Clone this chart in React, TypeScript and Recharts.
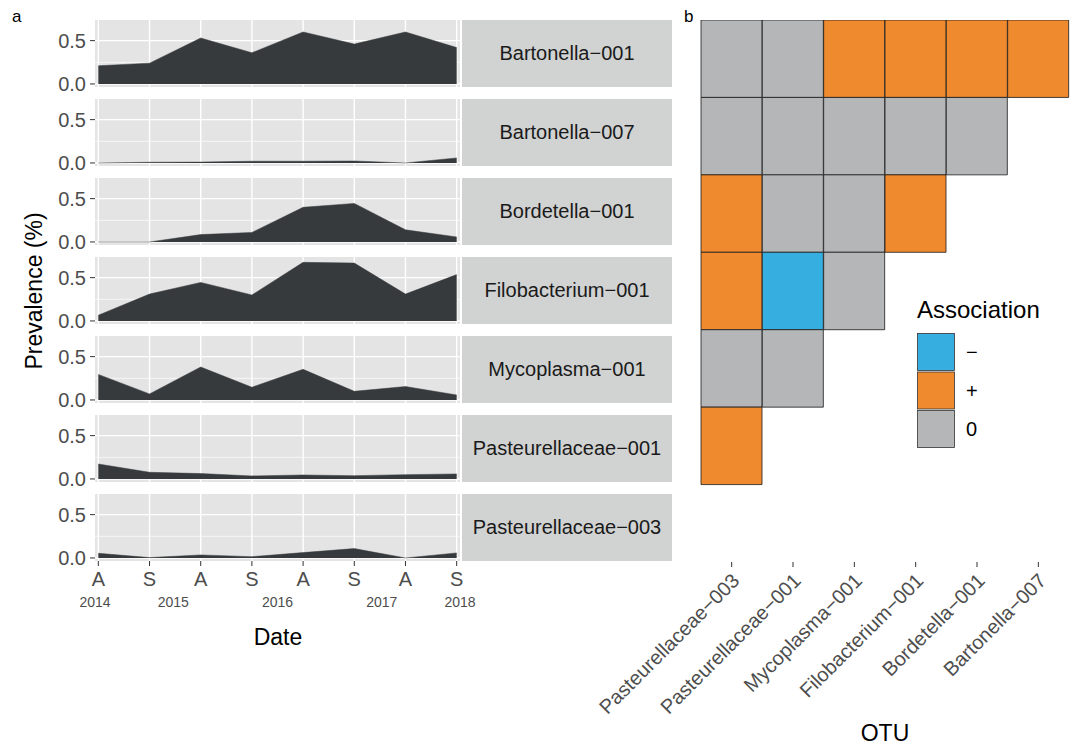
import React from 'react';
import { AreaChart, Area, XAxis, YAxis, CartesianGrid, BarChart, Bar, Cell } from 'recharts';

const FONT = '"Liberation Sans", Arial, Helvetica, sans-serif';

// sampling occasions (A = autumn, S = spring) and the year labels under them
const seasons = ['A', 'S', 'A', 'S', 'A', 'S', 'A', 'S'];
const yearLabels = ['2014', '2015', '2016', '2017', '2018'];
const yearPos = [0, 1.5, 3.5, 5.5, 7];

// prevalence per OTU, one value per sampling occasion
const otuNames = [
  'Bartonella−001',
  'Bartonella−007',
  'Bordetella−001',
  'Filobacterium−001',
  'Mycoplasma−001',
  'Pasteurellaceae−001',
  'Pasteurellaceae−003',
];
const bartonella001 = [0.21, 0.24, 0.53, 0.36, 0.6, 0.46, 0.6, 0.42];
const bartonella007 = [0.0, 0.008, 0.01, 0.02, 0.02, 0.023, 0.0, 0.058];
const bordetella001 = [0.0, 0.0, 0.085, 0.11, 0.4, 0.445, 0.14, 0.058];
const filobacterium001 = [0.066, 0.31, 0.445, 0.3, 0.676, 0.668, 0.31, 0.535];
const mycoplasma001 = [0.295, 0.07, 0.38, 0.147, 0.353, 0.1, 0.155, 0.058];
const pasteurellaceae001 = [0.173, 0.077, 0.062, 0.035, 0.046, 0.038, 0.05, 0.058];
const pasteurellaceae003 = [0.054, 0.004, 0.035, 0.015, 0.062, 0.108, 0.0, 0.058];
const prevalence = [
  bartonella001,
  bartonella007,
  bordetella001,
  filobacterium001,
  mycoplasma001,
  pasteurellaceae001,
  pasteurellaceae003,
];

// association matrix (rows = upper OTU, columns = x axis OTU)
const heatCols = [
  'Pasteurellaceae−003',
  'Pasteurellaceae−001',
  'Mycoplasma−001',
  'Filobacterium−001',
  'Bordetella−001',
  'Bartonella−007',
];
const assocBartonella001 = ['0', '0', '+', '+', '+', '+'];
const assocBartonella007 = ['0', '0', '0', '0', '0'];
const assocBordetella001 = ['+', '0', '0', '+'];
const assocFilobacterium001 = ['+', '−', '0'];
const assocMycoplasma001 = ['0', '0'];
const assocPasteurellaceae001 = ['+'];
const assocRows = [
  assocBartonella001,
  assocBartonella007,
  assocBordetella001,
  assocFilobacterium001,
  assocMycoplasma001,
  assocPasteurellaceae001,
];
const legendKeys = ['−', '+', '0'];
const assocColors: Record<string, string> = { '−': '#36AEDF', '+': '#F08A2E', '0': '#B5B6B8' };

const PANEL_TOP = 20;
const PANEL_H = 67;
const PANEL_PITCH = 79;
const AREA_COL = '#373A3D';
const X_DOMAIN = [-0.065, 7.065];
const TXT = 20;

function Panel({ values, index, last }: { values: number[]; index: number; last: boolean }) {
  const data = values.map((p, t) => ({ t, p }));
  const mainH = last ? 28 : 0;
  const yearH = last ? 24 : 0;
  return (
    <div style={{ position: 'absolute', left: 0, top: PANEL_TOP + index * PANEL_PITCH }}>
      <AreaChart
        width={462}
        height={PANEL_H + mainH + yearH}
        data={data}
        margin={{ top: 0, right: 2, bottom: 0, left: 50 }}
      >
        <CartesianGrid fill="#E4E4E4" stroke="#FFFFFF" strokeWidth={0.7} vertical={false} horizontalValues={[0.25]} />
        <CartesianGrid
          stroke="#FFFFFF"
          strokeWidth={1.4}
          horizontalValues={[0, 0.5]}
          verticalValues={seasons.map((_, i) => i)}
        />
        <XAxis
          dataKey="t"
          type="number"
          domain={X_DOMAIN}
          allowDataOverflow
          ticks={seasons.map((_, i) => i)}
          interval={0}
          hide={!last}
          height={28}
          tickFormatter={(v: number) => seasons[v]}
          tick={{ fill: '#4D4D4D', fontSize: TXT, fontFamily: FONT }}
          tickSize={5}
          tickMargin={6}
          axisLine={false}
          tickLine={{ stroke: '#333333' }}
        />
        {last && (
          <XAxis
            xAxisId="yr"
            type="number"
            domain={X_DOMAIN}
            allowDataOverflow
            ticks={yearPos}
            interval={0}
            height={24}
            tickFormatter={(v: number) => yearLabels[yearPos.indexOf(v)]}
            tick={{ fill: '#4D4D4D', fontSize: 14, fontFamily: FONT }}
            tickSize={0}
            tickMargin={8}
            axisLine={false}
            tickLine={false}
          />
        )}
        <YAxis
          type="number"
          domain={[-0.035, 0.738]}
          allowDataOverflow
          ticks={[0, 0.5]}
          interval={0}
          tickFormatter={(v: number) => v.toFixed(1)}
          width={45}
          tickSize={5}
          tickMargin={4}
          axisLine={false}
          tickLine={{ stroke: '#333333' }}
          tick={{ fill: '#4D4D4D', fontSize: TXT, fontFamily: FONT }}
        />
        <Area
          type="linear"
          dataKey="p"
          baseValue={0}
          fill={AREA_COL}
          fillOpacity={1}
          stroke={AREA_COL}
          strokeWidth={0.5}
          dot={false}
          activeDot={false}
          isAnimationActive={false}
        />
      </AreaChart>
      <div
        style={{
          position: 'absolute',
          left: 462,
          top: 0,
          width: 210,
          height: PANEL_H,
          background: '#D1D2D2',
          display: 'flex',
          alignItems: 'center',
          justifyContent: 'center',
          fontFamily: FONT,
          fontSize: TXT,
          color: '#1A1A1A',
        }}
      >
        {otuNames[index]}
      </div>
    </div>
  );
}

const RotTick = (props: any) => {
  const { x, y, payload } = props;
  return (
    <text
      transform={`translate(${x + 9},${y + 13}) rotate(-45)`}
      textAnchor="end"
      fill="#4D4D4D"
      fontSize={TXT}
      fontFamily={FONT}
    >
      {payload.value}
    </text>
  );
};

export default function App() {
  const heatData = heatCols.map((otu, j) => {
    const row: Record<string, string | number> = { otu };
    assocRows.forEach((arr, i) => {
      row['r' + i] = arr[j] !== undefined ? 1 : 0;
    });
    return row;
  });

  return (
    <div style={{ position: 'absolute', left: 0, top: 0, width: 1078, height: 746, background: '#FFFFFF', fontFamily: FONT }}>
      <style>{'svg.recharts-surface { overflow: visible; }'}</style>
      {prevalence.map((vals, i) => (
        <Panel key={otuNames[i]} values={vals} index={i} last={i === prevalence.length - 1} />
      ))}

      <div style={{ position: 'absolute', left: 680, top: 0 }}>
        <BarChart
          width={398}
          height={746}
          data={heatData}
          margin={{ top: 20, right: 9, bottom: 0, left: 21 }}
          barCategoryGap={0}
          barGap={0}
        >
          <XAxis
            dataKey="otu"
            type="category"
            height={184}
            interval={0}
            tickSize={5}
            axisLine={false}
            tickLine={{ stroke: '#333333' }}
            tick={<RotTick />}
          />
          <YAxis type="number" domain={[0, 7]} reversed hide allowDataOverflow />
          {assocRows.map((arr, i) => (
            <Bar key={'r' + i} dataKey={'r' + i} stackId="a" isAnimationActive={false}>
              {heatCols.map((c, j) => (
                <Cell
                  key={c}
                  fill={arr[j] !== undefined ? assocColors[arr[j]] : 'none'}
                  stroke="#1A1A1A"
                  strokeWidth={0.8}
                />
              ))}
            </Bar>
          ))}
        </BarChart>
      </div>

      <svg width={1078} height={746} style={{ position: 'absolute', left: 0, top: 0, pointerEvents: 'none' }}>
        <text x={12} y={22} fontSize={17} fill="#000">a</text>
        <text x={684} y={22} fontSize={17} fill="#000">b</text>
        <text
          transform="translate(42,291) rotate(-90)"
          textAnchor="middle"
          fontSize={23}
          fill="#000"
        >
          Prevalence (%)
        </text>
        <text x={278} y={645} textAnchor="middle" fontSize={23} fill="#000">Date</text>
        <text x={885} y={741} textAnchor="middle" fontSize={23} fill="#000">OTU</text>

        <text x={917} y={318} fontSize={24} fill="#000">Association</text>
        {legendKeys.map((k, i) => (
          <g key={k}>
            <rect
              x={917.5}
              y={333.5 + i * 38.5}
              width={37}
              height={37}
              fill={assocColors[k]}
              stroke="#333333"
              strokeWidth={0.8}
            />
            <text x={966} y={352 + i * 38.5} dy="0.35em" fontSize={TXT} fill="#000">{k}</text>
          </g>
        ))}
      </svg>
    </div>
  );
}
